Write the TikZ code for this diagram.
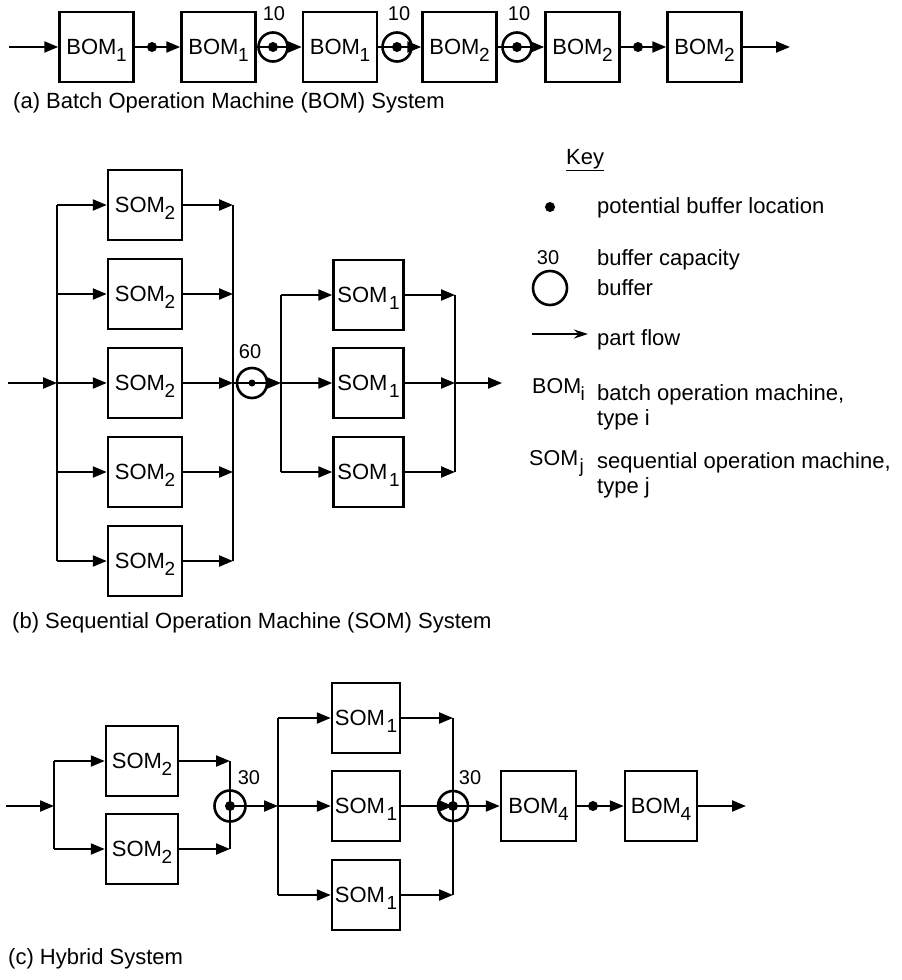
\documentclass[tikz,border=0pt]{standalone}
\usepackage{fontspec}
\setmainfont{Liberation Sans}
\usetikzlibrary{arrows.meta}
\newcommand\lsub[1]{\kern-0.5pt\raisebox{-7pt}{\fontsize{19}{19}\selectfont #1}}
\begin{document}
\begin{tikzpicture}[x=1pt,y=-1pt,
  mach/.style={draw,line width=2.5pt,minimum width=#1,minimum height=70pt,inner sep=0pt,
    font=\fontsize{22}{22}\selectfont,text height=15.8pt,text depth=0pt},
  mach/.default=74pt,
  flow/.style={line width=2.2pt,-{Triangle[length=14pt,width=11pt]}},
  lin/.style={line width=2.2pt},
  buf/.style={circle,draw,line width=2.6pt,minimum size=#1,inner sep=0pt},
  buf/.default=29pt,
  pdot/.style={circle,fill,inner sep=0pt,minimum size=#1},
  pdot/.default=10pt,
  num/.style={font=\fontsize{20}{20}\selectfont,inner sep=0pt},
  txt/.style={font=\fontsize{22}{22}\selectfont,inner sep=0pt,anchor=base west}
]
\useasboundingbox (0,0) rectangle (902,980);

% ---------------- (a) ----------------
\node[mach] (a1) at (96.5,47) {BOM\lsub{1}};
\node[mach] (a2) at (218.5,47) {BOM\lsub{1}};
\node[mach] (a3) at (340,47) {BOM\lsub{1}};
\node[mach] (a4) at (459.5,47) {BOM\lsub{2}};
\node[mach] (a5) at (582.5,47) {BOM\lsub{2}};
\node[mach] (a6) at (704.5,47) {BOM\lsub{2}};
\coordinate (ain) at (9,47);
\coordinate (aout) at (790,47);
\node[pdot] (ad1) at (152,47) {};
\node[buf] (ab1) at (273,47) {};
\node[buf] (ab2) at (397,47) {};
\node[buf] (ab3) at (517,47) {};
\node[pdot] (abd1) at (ab1) {};
\node[pdot] (abd2) at (ab2) {};
\node[pdot] (abd3) at (ab3) {};
\node[pdot] (ad2) at (638,47) {};
\node[num] (al1) at (274,14) {10};
\node[num] (al2) at (399,14) {10};
\node[num] (al3) at (519,14) {10};
\draw[flow] (ain) -- (a1.west);
\draw[flow] (a1.east) -- (a2.west);
\draw[flow] (a2.east) -- (a3.west);
\draw[flow] (a3.east) -- (a4.west);
\draw[flow] (a4.east) -- (a5.west);
\draw[flow] (a5.east) -- (a6.west);
\draw[flow] (a6.east) -- (aout);
\node[txt] (capa) at (13,108) {(a) Batch Operation Machine (BOM) System};

% ---------------- (b) ----------------
\foreach \i/\yy in {1/205,2/294,3/383,4/472,5/561}
  \node[mach] (s\i) at (145,\yy) {SOM\lsub{2}};
\foreach \i/\yy in {1/295,2/383,3/472}
  \node[mach=70pt] (t\i) at (368.5,\yy) {SOM\kern2pt\lsub{1}};
\coordinate (bin) at (8,383);
\coordinate (bLt) at (57,205);
\coordinate (bLb) at (57,561);
\coordinate (bRt) at (233,205);
\coordinate (bRb) at (233,561);
\coordinate (cLt) at (281,295);
\coordinate (cLb) at (281,472);
\coordinate (cRt) at (455,295);
\coordinate (cRb) at (455,472);
\coordinate (bout) at (502,383);
\draw[lin] (bLt) -- (bLb);
\draw[lin] (bRt) -- (bRb);
\draw[lin] (cLt) -- (cLb);
\draw[lin] (cRt) -- (cRb);
\draw[flow] (bin) -- (bin -| bLt);
\foreach \i in {1,...,5}{
  \draw[flow] (s\i.west -| bLt) -- (s\i.west);
  \draw[flow] (s\i.east) -- (s\i.east -| bRt);
}
\node[buf=30pt] (bb) at (252,383) {};
\node[pdot=7pt] (bbd) at (bb) {};
\node[num] (bl) at (250,352) {60};
\draw[flow] (bb.center -| bRt) -- (bb.center) -- (bb.center -| cLt);
\foreach \i in {1,2,3}{
  \draw[flow] (t\i.west -| cLt) -- (t\i.west);
  \draw[flow] (t\i.east) -- (t\i.east -| cRt);
}
\draw[flow] (bout -| cRt) -- (bout);
\node[txt] (capb) at (12,628) {(b) Sequential Operation Machine (SOM) System};

% ---------------- key ----------------
\node[txt] (key) at (566,164) {\underline{Key}};
\node[pdot] (kd) at (550,207) {};
\node[txt] (kdt) at (597,213) {potential buffer location};
\node[num] (kn) at (548,258) {30};
\node[txt] (knt) at (597,265) {buffer capacity};
\node[buf=34pt] (kc) at (550,288) {};
\node[txt] (kct) at (597,295) {buffer};
\coordinate (ka1) at (532,334);
\coordinate (ka2) at (588,334);
\draw[line width=2pt,-{Stealth[length=14pt,width=9pt]}] (ka1) -- (ka2);
\node[txt] (kat) at (597,345) {part flow};
\node[txt,font=\fontsize{21.5}{21.5}\selectfont] (kb) at (532,393) {BOM\lsub{i}};
\node[txt] (kbt1) at (597,400) {batch operation machine,};
\node[txt] (kbt2) at (597,425) {type i};
\node[txt,font=\fontsize{21.5}{21.5}\selectfont] (ks) at (529,465) {SOM\kern2pt\lsub{j}};
\node[txt] (kst1) at (597,468) {sequential operation machine,};
\node[txt] (kst2) at (597,493) {type j};

% ---------------- (c) ----------------
\node[mach=72pt] (u1) at (142,761) {SOM\lsub{2}};
\node[mach=72pt] (u2) at (142,849) {SOM\lsub{2}};
\node[mach=68pt] (v1) at (366,718) {SOM\kern2pt\lsub{1}};
\node[mach=68pt] (v2) at (366,806) {SOM\kern2pt\lsub{1}};
\node[mach=68pt] (v3) at (366,895) {SOM\kern2pt\lsub{1}};
\node[mach=75pt] (w1) at (538.5,806) {BOM\lsub{4}};
\node[mach=72pt] (w2) at (661,806) {BOM\lsub{4}};
\coordinate (cin) at (6,806);
\coordinate (dLt) at (54,761);
\coordinate (dLb) at (54,849);
\coordinate (dRt) at (230,761);
\coordinate (dRb) at (230,849);
\coordinate (eLt) at (278,718);
\coordinate (eLb) at (278,895);
\coordinate (eRt) at (453,718);
\coordinate (eRb) at (453,895);
\coordinate (cout) at (746,806);
\draw[lin] (dLt) -- (dLb);
\draw[lin] (dRt) -- (dRb);
\draw[lin] (eLt) -- (eLb);
\draw[lin] (eRt) -- (eRb);
\draw[flow] (cin) -- (cin -| dLt);
\foreach \n in {u1,u2}{
  \draw[flow] (\n.west -| dLt) -- (\n.west);
  \draw[flow] (\n.east) -- (\n.east -| dRt);
}
\node[buf=31pt] (cb1) at (230,806) {};
\node[pdot] (cbd1) at (cb1) {};
\node[num] (cl1) at (249,778) {30};
\draw[flow] (cb1.center) -- (cb1.center -| eLt);
\foreach \n in {v1,v2,v3}{
  \draw[flow] (\n.west -| eLt) -- (\n.west);
  \draw[flow] (\n.east) -- (\n.east -| eRt);
}
\node[buf=30pt] (cb2) at (453,806) {};
\node[pdot] (cbd2) at (cb2) {};
\node[num] (cl2) at (470,778) {30};
\draw[flow] (cb2.center) -- (w1.west);
\node[pdot] (cd) at (593,806) {};
\draw[flow] (w1.east) -- (w2.west);
\draw[flow] (w2.east) -- (cout);
\node[txt] (capc) at (8,964) {(c) Hybrid System};
\end{tikzpicture}
\end{document}
